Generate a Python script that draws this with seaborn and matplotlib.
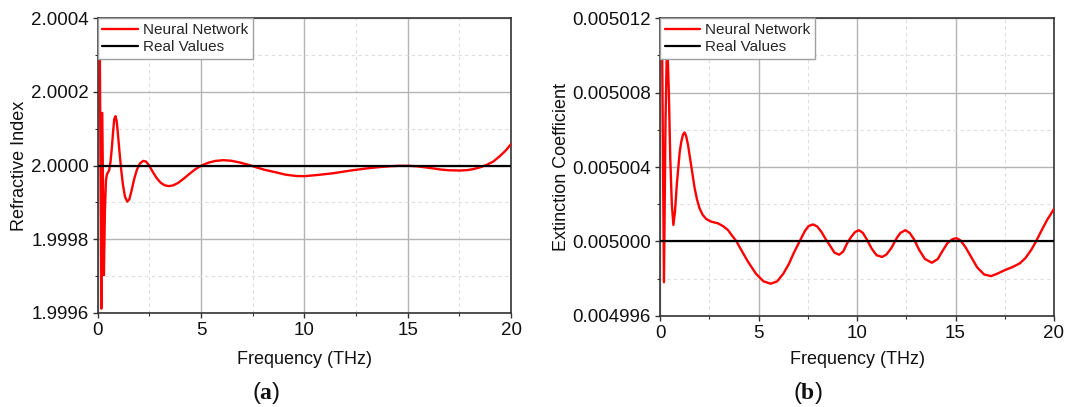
import numpy as np
import pandas as pd
import matplotlib
matplotlib.use("Agg")
import matplotlib.pyplot as plt
from matplotlib.ticker import MultipleLocator, FormatStrFormatter
from matplotlib.lines import Line2D
import seaborn as sns

# ---- (a) refractive index: neural-network prediction vs. real value ----
freq_a = [0.10, 0.175, 0.22, 0.30, 0.35, 0.40, 0.45, 0.50, 0.56, 0.62, 0.68, 0.75,
          0.80, 0.86, 0.92, 0.98, 1.05, 1.13, 1.22, 1.32, 1.43, 1.53, 1.64, 1.76,
          1.90, 2.05, 2.20, 2.33, 2.48, 2.65, 2.85, 3.05, 3.25, 3.45, 3.65, 3.90,
          4.20, 4.50, 4.75, 5.03, 5.35, 5.70, 6.08, 6.45, 6.85, 7.29, 7.70, 8.10,
          8.58, 9.10, 9.60, 10.00, 10.60, 11.40, 12.20, 13.00, 13.60, 14.15, 14.60,
          15.10, 15.45, 15.85, 16.24, 16.60, 17.00, 17.53, 17.90, 18.20, 18.50,
          18.83, 19.15, 19.47, 19.75, 20.00]
n_dev_e5 = [35.0, -38.9, 14.3, -29.8, -12.0, -4.0, -2.3, -1.9, -1.2, 1.0, 4.5, 9.5,
            12.6, 13.4, 12.0, 8.5, 4.0, -0.8, -5.2, -8.5, -9.8, -9.2, -6.8, -3.8,
            -1.1, 0.6, 1.25, 1.1, 0.1, -1.6, -3.4, -4.7, -5.4, -5.6, -5.4, -4.7,
            -3.4, -2.0, -0.9, 0.0, 0.75, 1.25, 1.44, 1.3, 0.85, 0.2, -0.55, -1.2,
            -1.8, -2.5, -2.85, -2.9, -2.6, -2.1, -1.4, -0.8, -0.45, -0.2, -0.08,
            -0.1, -0.22, -0.5, -0.8, -1.1, -1.3, -1.36, -1.25, -0.95, -0.5,
            0.17, 1.1, 2.6, 4.1, 5.8]
n_network = [2.0 + v * 1e-5 for v in n_dev_e5]
n_real = [2.0, 2.0]

# ---- (b) extinction coefficient: neural-network prediction vs. real value ----
freq_b = [0.10, 0.20, 0.28, 0.36, 0.45, 0.52, 0.60, 0.68, 0.76, 0.85, 0.91, 1.00,
          1.08, 1.17, 1.25, 1.33, 1.42, 1.50, 1.63, 1.76, 1.88, 2.01, 2.17, 2.35,
          2.60, 2.94, 3.20, 3.45, 3.65, 3.88, 4.17, 4.47, 4.87, 5.25, 5.62, 5.95,
          6.26, 6.55, 6.80, 7.09, 7.35, 7.55, 7.77, 7.98, 8.20, 8.41, 8.61, 8.85,
          9.09, 9.30, 9.50, 9.71, 9.90, 10.10, 10.30, 10.50, 10.75, 11.00, 11.28,
          11.50, 11.75, 12.00, 12.20, 12.45, 12.68, 12.90, 13.15, 13.45, 13.80,
          14.10, 14.35, 14.60, 14.85, 15.05, 15.25, 15.50, 15.80, 16.10, 16.45,
          16.80, 17.10, 17.50, 17.90, 18.27, 18.55, 18.85, 19.09, 19.35, 19.65, 20.00]
k_dev_e6 = [11.5, -2.2, 6.5, 11.0, 8.0, 4.5, 2.0, 0.88, 1.6, 3.0, 3.74, 4.8,
            5.36, 5.75, 5.86, 5.65, 5.2, 4.64, 3.75, 2.85, 2.25, 1.77, 1.42, 1.2,
            1.06, 0.97, 0.82, 0.61, 0.32, 0.0, -0.55, -1.1, -1.74, -2.15, -2.28, -2.15,
            -1.74, -1.2, -0.6, 0.0, 0.55, 0.83, 0.91, 0.8, 0.5, 0.12, -0.2, -0.6,
            -0.72, -0.55, -0.1, 0.25, 0.5, 0.6, 0.45, 0.1, -0.4, -0.75, -0.84,
            -0.7, -0.35, 0.15, 0.45, 0.6, 0.45, 0.1, -0.45, -0.95, -1.15,
            -0.95, -0.5, -0.08, 0.12, 0.17, 0.05, -0.3, -0.85, -1.4, -1.78,
            -1.87, -1.75, -1.55, -1.38, -1.18, -0.9, -0.45, 0.0, 0.55, 1.15, 1.74]
k_network = [0.005 + v * 1e-6 for v in k_dev_e6]
k_real = [0.005, 0.005]

real_freq = [0.0, 20.0]

sns.set_theme(style="white")
plt.rcParams["font.family"] = ["Liberation Sans", "DejaVu Sans"]
plt.rcParams["mathtext.fontset"] = "custom"
plt.rcParams["mathtext.rm"] = "Liberation Serif"
plt.rcParams["mathtext.bf"] = "Liberation Serif:bold"

W, H = 1067, 407
fig = plt.figure(figsize=(W / 100, H / 100), dpi=100)


def px_axes(x0, x1, top, bottom):
    return fig.add_axes([x0 / W, 1 - bottom / H, (x1 - x0) / W, (bottom - top) / H])


ax_a = px_axes(97.7, 511, 18.3, 312.7)
ax_b = px_axes(660, 1054, 18.3, 315.7)

RED = "#ff0000"
specs = [
    (ax_a, freq_a, n_network, n_real, (1.9996, 2.0004), 0.0002, "%.4f",
     "Refractive Index", 19, "($\\mathbf{a}$)", 266),
    (ax_b, freq_b, k_network, k_real, (0.004996, 0.005012), 0.000004, "%.6f",
     "Extinction Coefficient", 562, "($\\mathbf{b}$)", 808),
]

for ax, fx, net, real, ylim, ystep, yfmt, ylab, ylab_x, cap, cap_x in specs:
    sns.lineplot(x=fx, y=net, ax=ax, color=RED, linewidth=1.7, sort=False,
                 estimator=None, zorder=3, solid_joinstyle="round")
    sns.lineplot(x=real_freq, y=real, ax=ax, color="black", linewidth=1.6,
                 sort=False, estimator=None, zorder=4)

    ax.set_xlim(0, 20)
    ax.set_ylim(*ylim)
    ax.xaxis.set_major_locator(MultipleLocator(5))
    ax.xaxis.set_minor_locator(MultipleLocator(2.5))
    ax.yaxis.set_major_locator(MultipleLocator(ystep))
    ax.yaxis.set_minor_locator(MultipleLocator(ystep / 2))
    ax.yaxis.set_major_formatter(FormatStrFormatter(yfmt))

    ax.grid(True, which="major", color="#b4b4b4", linewidth=1.0, linestyle="-")
    ax.grid(True, which="minor", color="#dedede", linewidth=0.8, linestyle=(0, (3, 3)))
    ax.set_axisbelow(True)

    for s in ax.spines.values():
        s.set_visible(True)
        s.set_color("#333333")
        s.set_linewidth(1.2)

    ax.tick_params(which="major", direction="out", length=3.5, width=1.0,
                   color="#333333", labelsize=13.5, pad=3,
                   bottom=True, left=True, top=False, right=False)
    ax.tick_params(which="minor", direction="out", length=2, width=0.8,
                   color="#333333", bottom=True, left=True, top=False, right=False)
    for lab in ax.get_xticklabels() + ax.get_yticklabels():
        lab.set_color("#111111")

    ax.set_xlabel("")
    ax.set_ylabel("")
    pos = ax.get_position()
    cx = (pos.x0 + pos.x1) / 2
    fig.text(cx, 1 - 360 / H, "Frequency (THz)", ha="center", va="center",
             fontsize=13, color="#111111")
    fig.text(ylab_x / W, (pos.y0 + pos.y1) / 2, ylab, rotation=90,
             ha="center", va="center", fontsize=13, color="#111111")
    fig.text(cap_x / W, 1 - 393 / H, cap, ha="center", va="center",
             fontsize=17, color="#111111")

    handles = [Line2D([], [], color=RED, linewidth=1.7),
               Line2D([], [], color="black", linewidth=1.6)]
    leg = ax.legend(handles, ["Neural Network", "Real Values"], loc="upper left",
                    bbox_to_anchor=(0, 1), borderaxespad=0, fontsize=11,
                    frameon=True, fancybox=False, framealpha=1,
                    edgecolor="#a0a0a0", handlelength=2.35, handletextpad=0.3,
                    labelspacing=0.22, borderpad=0.3)
    leg.get_frame().set_linewidth(1.0)
    leg.set_zorder(10)

fig.savefig("out.png", dpi=100)
